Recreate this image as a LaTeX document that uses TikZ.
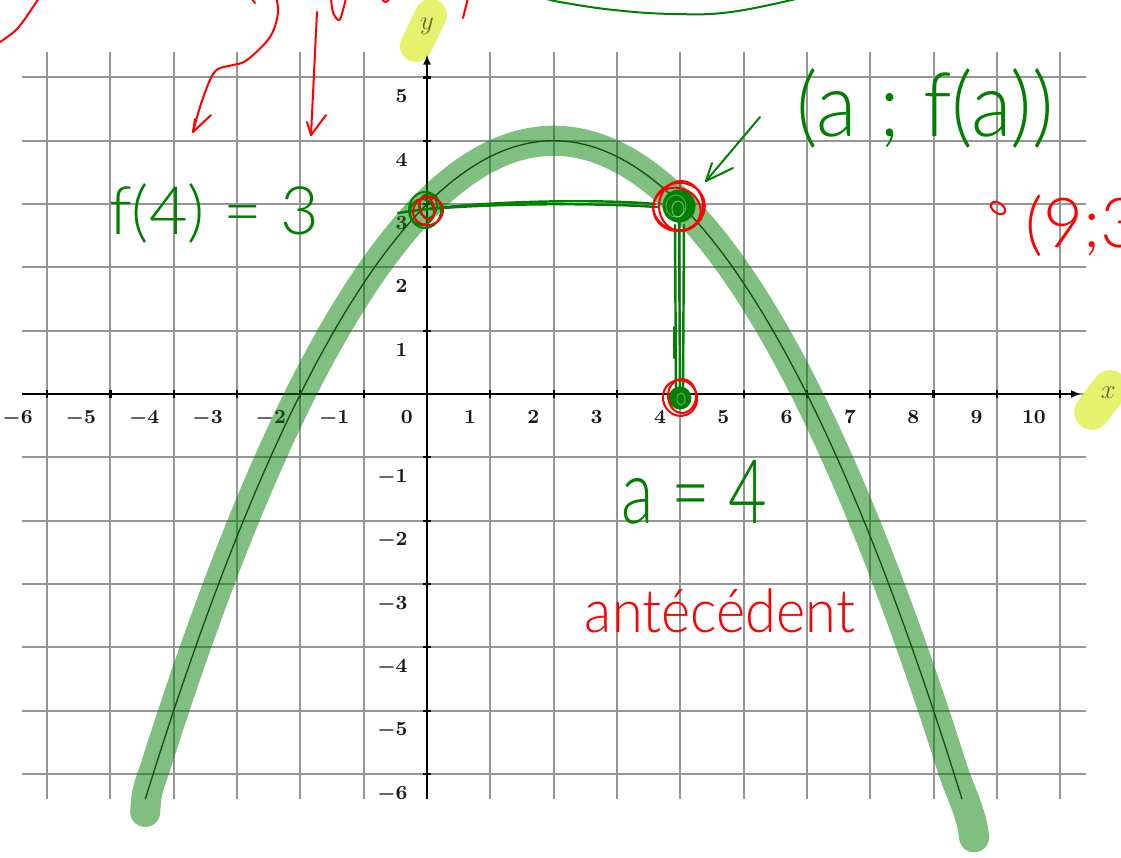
\documentclass[tikz,border=0pt]{standalone}
\usepackage{fontspec}
\usepackage{graphicx}
\usetikzlibrary{arrows.meta}
\newfontfamily\hand{Lato Light}
\definecolor{pengreen}{RGB}{0,128,0}
\definecolor{penredc}{RGB}{255,0,0}
\definecolor{hlyellow}{RGB}{228,240,95}
\definecolor{gridgray}{RGB}{150,150,150}
\definecolor{olivetext}{RGB}{100,104,48}
\begin{document}
\begin{tikzpicture}[x=0.015798cm, y=-0.015798cm,
  gridline/.style={draw=gridgray, line width=0.9pt},
  axisline/.style={draw=black, line width=1.2pt},
  tickmark/.style={draw=black, line width=1pt},
  ticklab/.style={font=\fontsize{8.8}{10}\selectfont\boldmath, text=black!90, inner sep=0pt},
  axislab/.style={font=\fontsize{12.5}{14}\selectfont, text=olivetext, inner sep=0pt},
  gstroke/.style={draw=pengreen, line width=0.9pt, line cap=round, line join=round},
  rstroke/.style={draw=penredc, line width=0.9pt, line cap=round, line join=round},
  band/.style={draw=pengreen, opacity=0.5, line width=13.5pt, line cap=round, line join=round},
  yhl/.style={draw=hlyellow, opacity=0.9, line cap=round},
  ghand/.style={text=pengreen, inner sep=0pt, font=\hand},
  rhand/.style={text=penredc, inner sep=0pt, font=\hand}]
\useasboundingbox (0,0) rectangle (1121,857);
\fill[white] (0,0) rectangle (1121,857);

% ---------- graph in data coordinates ----------
\begin{scope}[shift={(427,394)}, x=1cm, y=1cm]
  \foreach \i in {-6,...,10} \draw[gridline] (\i,-6.4) -- (\i,5.4);
  \foreach \j in {-6,...,5} \draw[gridline] (-6.4,\j) -- (10.4,\j);
\end{scope}

% ---------- yellow highlights on the axis names ----------
\draw[yhl, line width=14.4pt] (431,15) -- (416,46);
\draw[yhl, line width=16pt] (1110,388) -- (1092,412);

\begin{scope}[shift={(427,394)}, x=1cm, y=1cm]
  \coordinate (xstart) at (-6.4,0);
  \coordinate (xtip) at (10.33,0);
  \coordinate (ystart) at (0,-6.4);
  \coordinate (ytip) at (0,5.36);
  \draw[axisline, -{Latex[length=4.5pt,width=3.6pt]}] (xstart) -- (xtip);
  \draw[axisline, -{Latex[length=4.5pt,width=3.6pt]}] (ystart) -- (ytip);
  \foreach \i in {-6,...,10} \draw[tickmark] (\i,-0.065) -- (\i,0.065);
  \foreach \j in {-6,...,5} \draw[tickmark] (-0.065,\j) -- (0.065,\j);
  \foreach \i in {-6,...,10}
    \node[ticklab, anchor=base east] (xl\i) at ({\i-0.22},-0.47) {$\i$};
  \foreach \j in {-6,-5,-4,-3,-2,-1,1,2,3,4,5}
    \node[ticklab, anchor=base east] (yl\j) at (-0.30,{\j-0.40}) {$\j$};
  \node[axislab] (ylab) at (0,5.80) {$y$};
  \node[axislab] (xlab) at (10.76,0.02) {$x$};
  % parabola
  \draw[line width=0.6pt, black!85] plot[domain=-4.45:8.45, samples=120, smooth] (\x,{4-(\x-2)*(\x-2)/4});
  % green highlighter
  \draw[band] (-4.45,-6.6) .. controls (-4.43,-6.3) .. (-4.3,-5.92)
     -- plot[domain=-4.3:8.3, samples=120, smooth] (\x,{4-(\x-2)*(\x-2)/4})
     .. controls (8.42,-6.3) and (8.6,-6.6) .. (8.64,-7.0);
\end{scope}

% ---------- green construction lines ----------
\coordinate (p03) at (427,210);
\coordinate (p43) at (679,206);
\coordinate (p40) at (680,398);
\draw[gstroke, line width=1.1pt] (398,213) .. controls (480,200) and (600,199) .. (655,204);
\draw[gstroke, line width=1.1pt] (430,209) .. controls (500,203) and (600,203) .. (657,207);
\draw[gstroke, line width=1.1pt] (675,225) -- (676,392);
\draw[gstroke, line width=1.1pt] (679,220) -- (680,395);
\draw[gstroke, line width=1.1pt] (684,225) -- (683,388);
\draw[gstroke] (674,327) -- (674,358);
% green scribbled points
\draw[gstroke] (425,210) ellipse [x radius=16, y radius=18];
\draw[gstroke] (422,212) ellipse [x radius=12, y radius=13];
\draw[gstroke] (428,206) ellipse [x radius=9, y radius=12];
\fill[pengreen] (p43) circle [radius=16.5];
\draw[white, opacity=0.45, line width=0.4pt] (678,209) ellipse [x radius=6, y radius=8];
\draw[white, opacity=0.35, line width=0.4pt] (676,206) ellipse [x radius=10, y radius=11];
\fill[pengreen] (p40) circle [radius=11.5];
\draw[white, opacity=0.4, line width=0.4pt] (681,399) ellipse [x radius=4, y radius=6];

% ---------- red circles ----------
\draw[rstroke, rotate around={20:(428,211)}] (428,211) ellipse [x radius=15, y radius=14];
\draw[rstroke, rotate around={15:(427,208)}] (427,208) ellipse [x radius=7, y radius=12];
\draw[rstroke, rotate around={15:(679,207)}] (679,207) ellipse [x radius=26, y radius=24];
\draw[rstroke] (681,206) ellipse [x radius=22, y radius=25];
\draw[rstroke, rotate around={-20:(677,209)}] (677,209) ellipse [x radius=24, y radius=21];
\draw[rstroke, rotate around={20:(680,398)}] (680,398) ellipse [x radius=17, y radius=18];
\draw[rstroke] (682,396) ellipse [x radius=14, y radius=17];
\coordinate (p93) at (998,208);
\draw[rstroke, rotate around={-35:(p93)}] (p93) ellipse [x radius=8, y radius=5];

% ---------- handwriting ----------
\node[ghand, anchor=base] (fof4) at (214,234) {\fontsize{30}{30}\selectfont f(4) = 3};
\node[ghand, anchor=base] (pairlab) at (925,136) {\fontsize{40}{40}\selectfont\scalebox{0.94}[1]{(a ; f(a))}};
\node[ghand, anchor=base] (aeq) at (694,523) {\fontsize{40}{40}\selectfont\scalebox{0.75}[1]{a = 4}};
\node[rhand, anchor=base] (antec) at (720,632) {\fontsize{27}{27}\selectfont\scalebox{0.93}[1]{antécédent}};
\node[rhand, anchor=base west] (pt93) at (1025,247) {\fontsize{31}{31}\selectfont (9;3};

% green arrow to the point (a ; f(a))
\coordinate (ga1s) at (760,117);
\coordinate (ga1t) at (706,181);
\draw[gstroke] (ga1s) -- (ga1t);
\draw[gstroke] (733,168) -- (ga1t) -- (712,163);
% green arc at the top (cut off)
\draw[gstroke] plot[smooth, tension=0.7] coordinates {(545,-2) (560,2) (614,10) (674,14) (731,12) (800,-2)};

% red arrows from the top (cut off text)
\coordinate (ra1s) at (276,-2);
\coordinate (ra1t) at (193,132);
\draw[rstroke] plot[smooth, tension=0.6] coordinates {(ra1s) (278,13) (270,37) (247,60) (233,65) (218,69) (210,80) (200,107) (ra1t)};
\draw[rstroke] (211,115) -- (ra1t) -- (195,119);
\coordinate (ra2s) at (317,12);
\coordinate (ra2t) at (311,135);
\draw[rstroke] (ra2s) -- (ra2t);
\draw[rstroke] (326,115) -- (ra2t) -- (307,122);
% other red fragments at the top edge
\draw[rstroke] plot[smooth] coordinates {(0,42) (18,28) (39,-2)};
\draw[rstroke] (252,-1) -- (255,3);
\draw[rstroke] plot[smooth, tension=0.7] coordinates {(331,-2) (333,12) (339,20) (343,10) (346,-2)};
\draw[rstroke] (382,-1) .. controls (384,3) and (387,3) .. (389,-1);
\draw[rstroke] (463,18) -- (468,-2);
\end{tikzpicture}
\end{document}
